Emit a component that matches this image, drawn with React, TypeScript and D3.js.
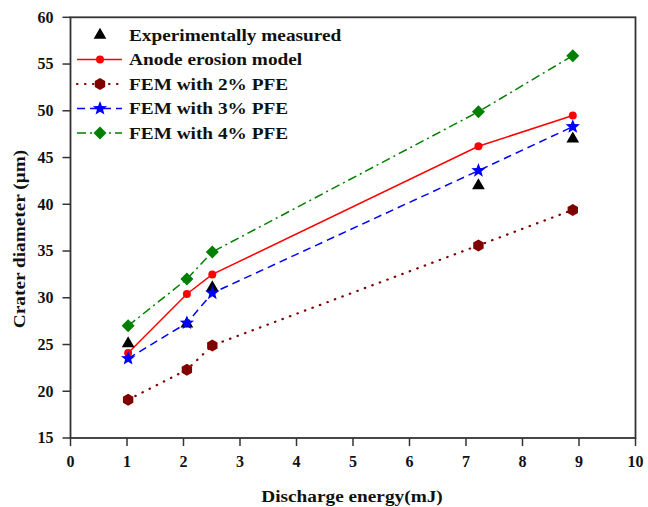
import React from "react";
import * as d3 from "d3";

const energy = [1.02, 2.06, 2.51, 7.22, 8.89];
const experimental = [25.1, 27.2, 31.1, 42.0, 47.0];
const anodeModel = [24.1, 30.4, 32.5, 46.2, 49.5];
const fem2 = [19.1, 22.3, 24.9, 35.6, 39.4];
const fem3 = [23.5, 27.3, 30.5, 43.6, 48.3];
const fem4 = [27.0, 32.0, 34.9, 49.9, 55.9];
const xTicks = [0, 1, 2, 3, 4, 5, 6, 7, 8, 9, 10];
const yTicks = [15, 20, 25, 30, 35, 40, 45, 50, 55, 60];
const legendLabels = [
  "Experimentally measured",
  "Anode erosion model",
  "FEM with 2% PFE",
  "FEM with 3% PFE",
  "FEM with 4% PFE",
];

const W = 648;
const H = 507;
const left = 70.5;
const right = 635.5;
const top = 17.3;
const bottom = 438;
const FONT = "'Liberation Serif', 'Times New Roman', serif";
const STRETCH = 1.135;

function markerPath(kind: string): string {
  if (kind === "triangle") return d3.symbol(d3.symbolTriangle, 70)()!;
  if (kind === "circle") return d3.symbol(d3.symbolCircle, 50)()!;
  if (kind === "diamond") {
    const r = 6.5;
    return `M0,${-r}L${r},0L0,${r}L${-r},0Z`;
  }
  if (kind === "hexagon") {
    const r = 6;
    const pts = d3.range(6).map((i) => {
      const a = (Math.PI / 3) * i + Math.PI / 6;
      return [r * Math.cos(a), r * Math.sin(a)];
    });
    return "M" + pts.map((p) => p.join(",")).join("L") + "Z";
  }
  if (kind === "star") {
    const R = 7.5, r = 3.2;
    const pts = d3.range(10).map((i) => {
      const a = -Math.PI / 2 + (Math.PI / 5) * i;
      const rr = i % 2 === 0 ? R : r;
      return [rr * Math.cos(a), rr * Math.sin(a)];
    });
    return "M" + pts.map((p) => p.join(",")).join("L") + "Z";
  }
  return "";
}

export default function App() {
  const x = d3.scaleLinear().domain([0, 10]).range([left, right]);
  const y = d3.scaleLinear().domain([15, 60]).range([bottom, top]);

  const series = [
    { values: experimental, color: "#000000", marker: "triangle", dash: "", line: false, w: 1.5, cap: "butt" },
    { values: anodeModel, color: "#ff0000", marker: "circle", dash: "", line: true, w: 1.5, cap: "butt" },
    { values: fem2, color: "#800000", marker: "hexagon", dash: "0.5,7.5", line: true, w: 2.2, cap: "round" },
    { values: fem3, color: "#0000ff", marker: "star", dash: "8,5", line: true, w: 1.5, cap: "butt" },
    { values: fem4, color: "#008000", marker: "diamond", dash: "9,4,2,4", line: true, w: 1.5, cap: "butt" },
  ];

  const lineGen = d3
    .line<number>()
    .x((_, i) => x(energy[i]))
    .y((d) => y(d));

  const legendX0 = 77;
  const legendX1 = 122;
  const legendMx = 100;
  const legendTx = 129;
  const legendY0 = 35;
  const legendDy = 24.5;

  return (
    <svg width={W} height={H} style={{ position: "absolute", left: 0, top: 0, background: "#fff" }}>
      <rect x={0} y={0} width={W} height={H} fill="#fff" />
      {series.map((s, si) =>
        s.line ? (
          <path
            key={"l" + si}
            d={lineGen(s.values)!}
            fill="none"
            stroke={s.color}
            strokeWidth={s.w}
            strokeDasharray={s.dash || undefined}
            strokeLinecap={s.cap as any}
          />
        ) : null
      )}
      {series.map((s, si) =>
        s.values.map((v, i) => (
          <path
            key={"m" + si + "-" + i}
            d={markerPath(s.marker)}
            transform={`translate(${x(energy[i])},${y(v)})`}
            fill={s.color}
          />
        ))
      )}
      <rect x={left} y={top} width={right - left} height={bottom - top} fill="none" stroke="#333" strokeWidth={1.8} />
      {xTicks.map((t) => (
        <g key={"xt" + t}>
          <line x1={x(t)} x2={x(t)} y1={bottom} y2={bottom + 8} stroke="#333" strokeWidth={1.5} />
          <text
            x={x(t)}
            y={467}
            textAnchor="middle"
            fontFamily={FONT}
            fontWeight="bold"
            fontSize={16}
            fill="#111"
          >
            {t}
          </text>
        </g>
      ))}
      {yTicks.map((t) => (
        <g key={"yt" + t}>
          <line x1={left - 8} x2={left} y1={y(t)} y2={y(t)} stroke="#333" strokeWidth={1.5} />
          <text
            x={53.5}
            y={y(t)}
            dy="0.34em"
            textAnchor="end"
            fontFamily={FONT}
            fontWeight="bold"
            fontSize={16}
            fill="#111"
          >
            {t}
          </text>
        </g>
      ))}
      <text
        transform={`translate(352,501.5) scale(${STRETCH},1)`}
        textAnchor="middle"
        fontFamily={FONT}
        fontWeight="bold"
        fontSize={17}
        fill="#111"
      >
        Discharge energy(mJ)
      </text>
      <text
        transform={`translate(25,239) rotate(-90) scale(${STRETCH},1)`}
        textAnchor="middle"
        fontFamily={FONT}
        fontWeight="bold"
        fontSize={17}
        fill="#111"
      >
        Crater diameter (μm)
      </text>
      {series.map((s, si) => {
        const ly = legendY0 + si * legendDy;
        return (
          <g key={"lg" + si}>
            {s.line ? (
              <line
                x1={legendX0}
                x2={legendX1}
                y1={ly}
                y2={ly}
                stroke={s.color}
                strokeWidth={s.w}
                strokeDasharray={s.dash || undefined}
                strokeLinecap={s.cap as any}
              />
            ) : null}
            <path d={markerPath(s.marker)} transform={`translate(${legendMx},${ly})`} fill={s.color} />
            <text
              transform={`translate(${legendTx},${ly}) scale(${STRETCH},1)`}
              dy="0.35em"
              fontFamily={FONT}
              fontWeight="bold"
              fontSize={17}
              fill="#111"
            >
              {legendLabels[si]}
            </text>
          </g>
        );
      })}
    </svg>
  );
}
